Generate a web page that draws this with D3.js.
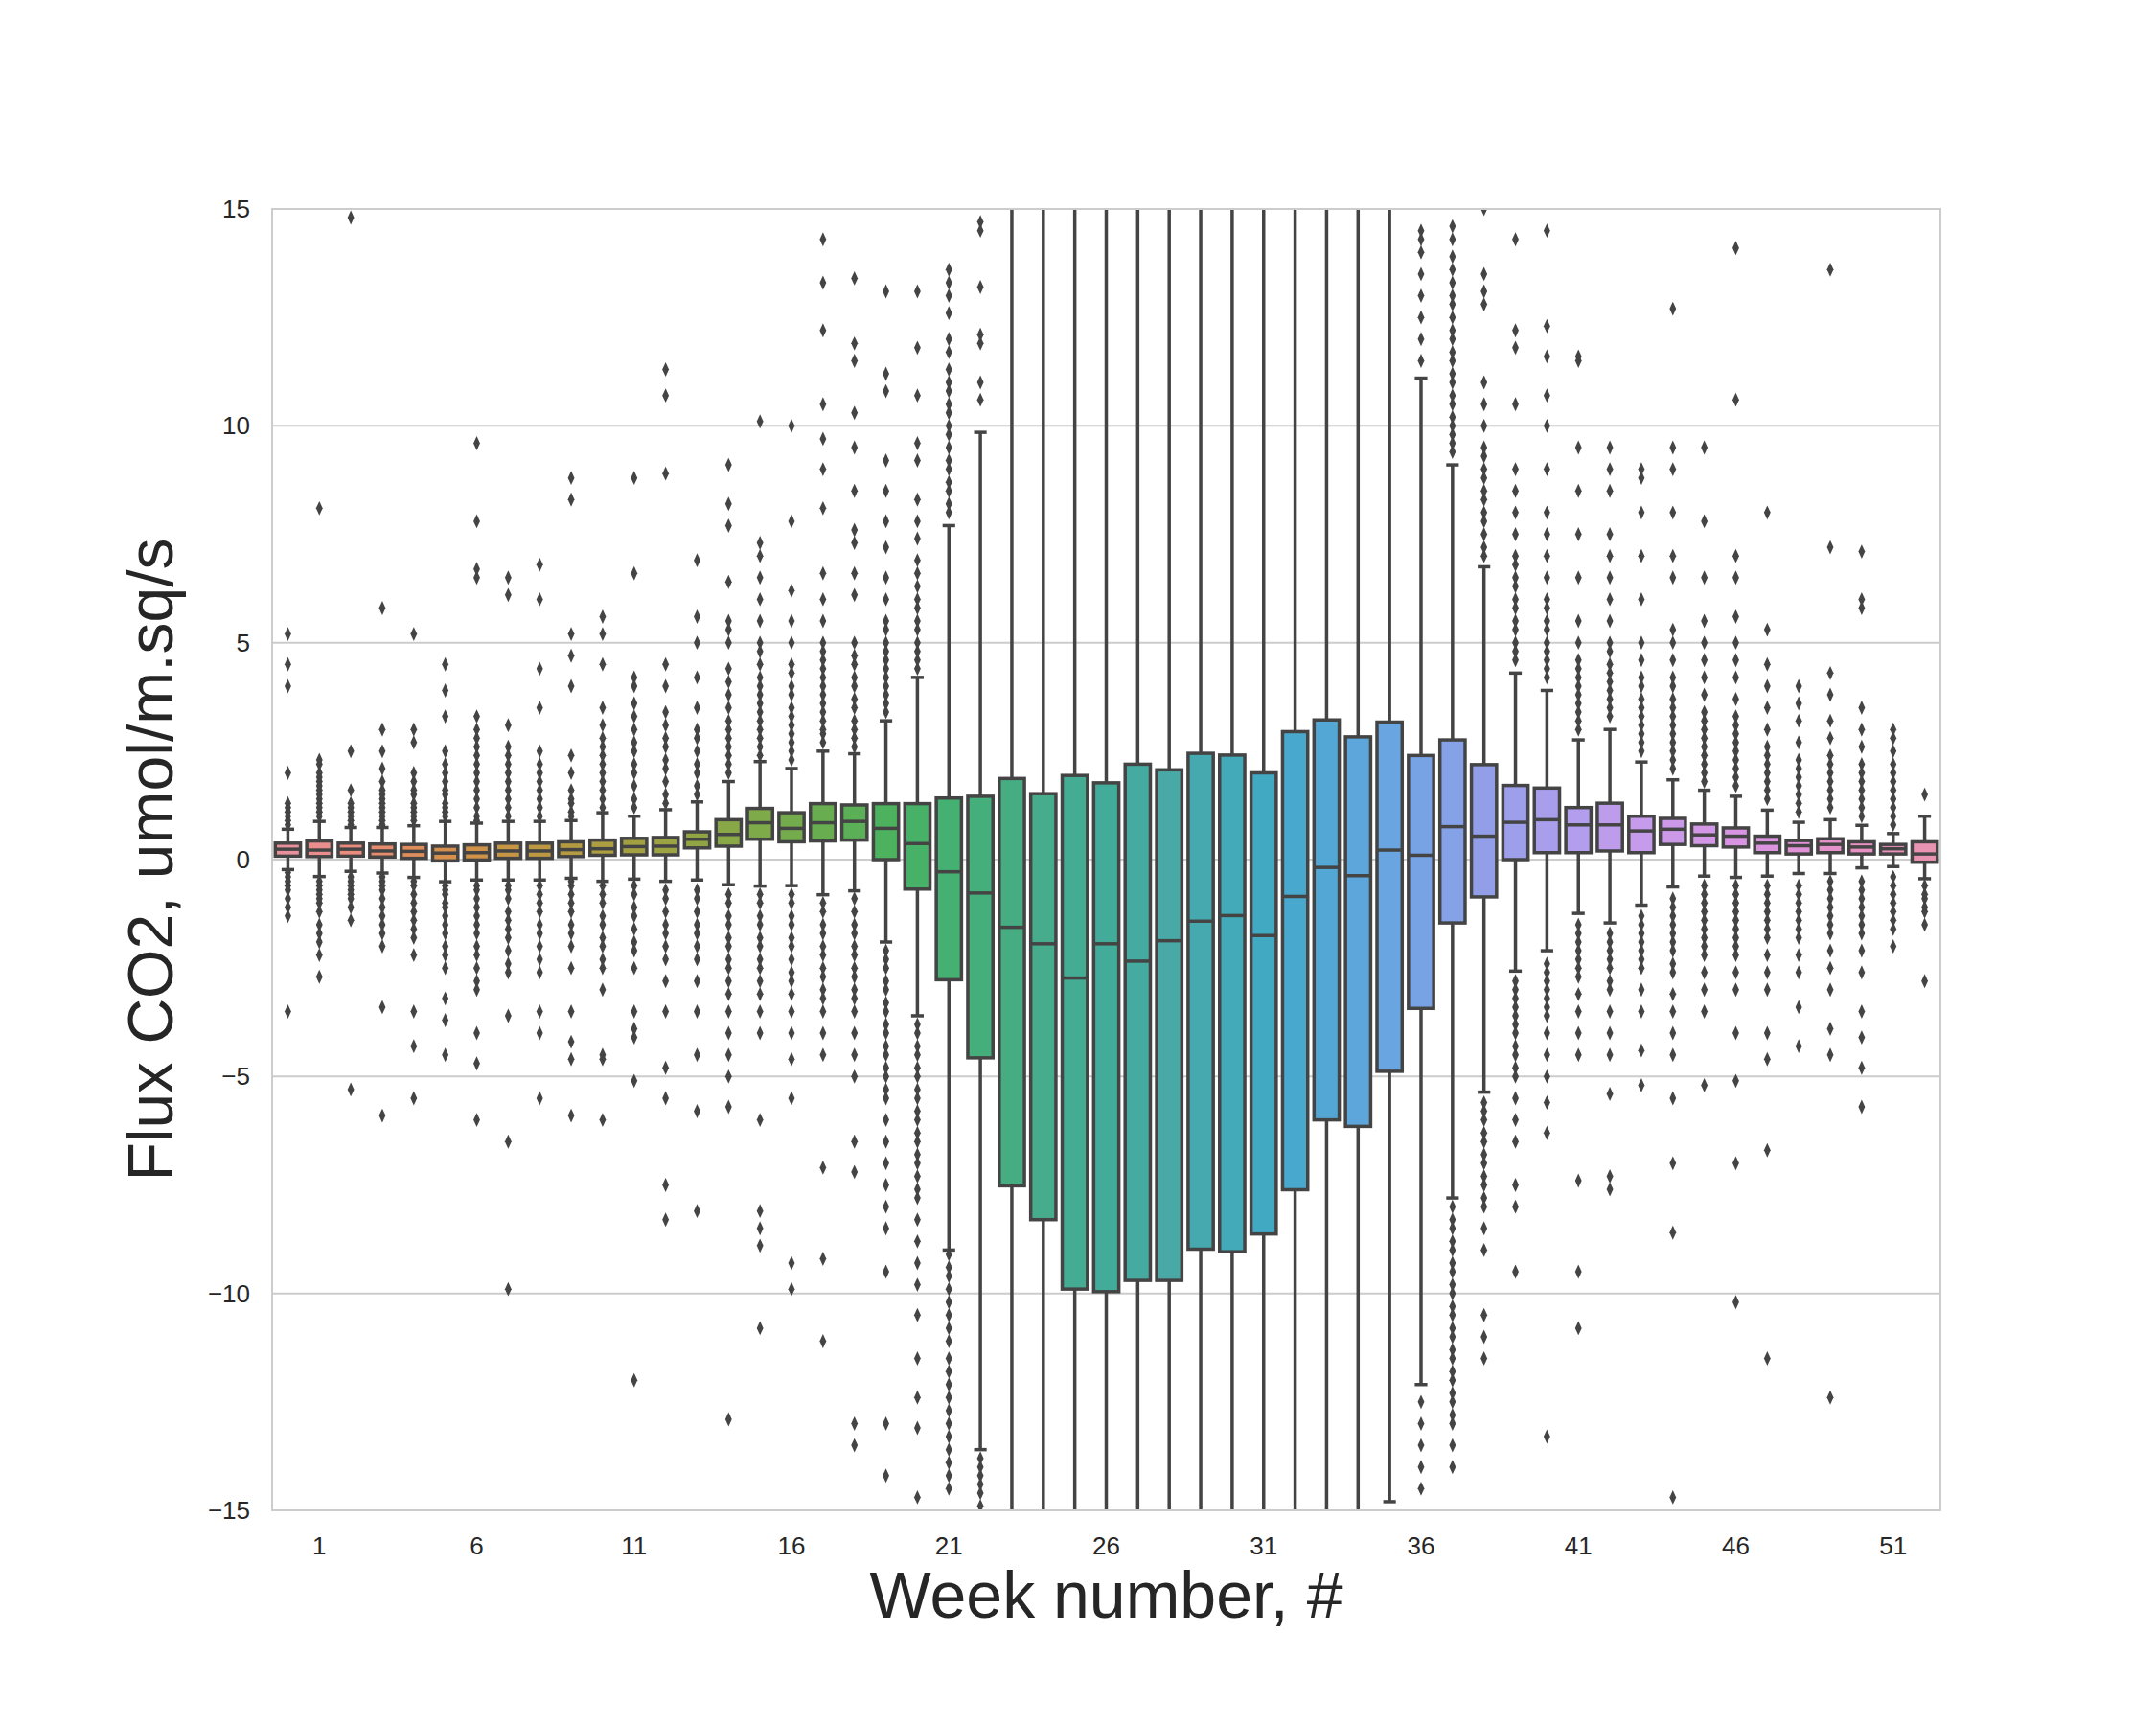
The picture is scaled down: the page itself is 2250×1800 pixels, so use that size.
<!DOCTYPE html>
<html><head><meta charset="utf-8">
<script src="https://cdn.jsdelivr.net/npm/d3@7"></script>
<style>body{margin:0;background:#fff}text{font-family:Arial,"Liberation Sans",sans-serif;fill:#262626}</style>
</head><body><svg id="chart"></svg>
<script>
var width = 2250, height = 1800;

// week numbers 0..52
var weeks = d3.range(0, 53);
var tickWeeks = [1, 6, 11, 16, 21, 26, 31, 36, 41, 46, 51];

// lower whisker, q1, median, q3, upper whisker (beyond +-15 drawn clipped)
var whiskLo = [-0.23,-0.39,-0.27,-0.31,-0.41,-0.51,-0.47,-0.47,-0.47,-0.43,-0.5,-0.45,-0.5,-0.47,-0.58,-0.61,-0.6,-0.81,-0.72,-1.9,-3.6,-9.0,-13.6,-16,-16,-16,-16,-16,-16,-16,-16,-16,-16,-16,-16,-14.8,-12.1,-7.8,-5.36,-2.57,-2.1,-1.24,-1.46,-1.05,-0.63,-0.38,-0.41,-0.38,-0.32,-0.32,-0.19,-0.16,-0.44];
var q1 = [0.08,0.07,0.08,0.06,0.03,-0.03,-0.01,0.03,0.03,0.07,0.1,0.11,0.11,0.27,0.31,0.47,0.41,0.43,0.45,0.0,-0.68,-2.77,-4.57,-7.52,-8.3,-9.9,-9.96,-9.7,-9.7,-8.98,-9.04,-8.63,-7.61,-6.0,-6.15,-4.88,-3.43,-1.46,-0.86,0.0,0.16,0.16,0.2,0.16,0.35,0.32,0.29,0.16,0.13,0.16,0.13,0.13,-0.06];
var median = [0.24,0.22,0.24,0.2,0.19,0.15,0.16,0.2,0.2,0.23,0.25,0.3,0.31,0.47,0.58,0.85,0.72,0.85,0.88,0.72,0.37,-0.28,-0.77,-1.56,-1.94,-2.73,-1.94,-2.34,-1.87,-1.42,-1.29,-1.75,-0.85,-0.18,-0.37,0.22,0.1,0.76,0.54,0.86,0.92,0.8,0.8,0.66,0.7,0.57,0.54,0.38,0.32,0.35,0.29,0.25,0.13];
var q3 = [0.38,0.43,0.38,0.36,0.35,0.31,0.34,0.38,0.38,0.41,0.45,0.49,0.51,0.64,0.92,1.18,1.08,1.29,1.26,1.29,1.29,1.42,1.46,1.87,1.52,1.94,1.77,2.2,2.07,2.45,2.41,2.0,2.95,3.22,2.83,3.17,2.4,2.76,2.19,1.71,1.65,1.2,1.3,1.0,0.95,0.82,0.73,0.54,0.44,0.48,0.41,0.35,0.41];
var whiskHi = [0.7,0.88,0.74,0.74,0.78,0.88,0.84,0.88,0.88,0.9,1.08,1.0,1.15,1.33,1.8,2.26,2.1,2.5,2.44,3.2,4.2,7.7,9.85,16,16,16,16,16,16,16,16,16,16,16,16,16,11.1,9.1,6.75,4.3,3.9,2.76,3.0,2.25,1.84,1.6,1.46,1.14,0.86,0.92,0.79,0.6,1.0];

var fliers = [
  [0.8,0.9,1.0,1.1,1.2,1.3,2.0,4.0,4.5,5.2,-0.3,-0.4,-0.5,-0.6,-0.7,-0.9,-1.1,-1.3,-3.5],
  [1.0,1.1,1.2,1.3,1.4,1.5,1.6,1.7,1.8,1.9,2.0,2.2,2.3,8.1,-0.5,-0.6,-0.7,-0.8,-0.9,-1.0,-1.2,-1.5,-1.7,-1.9,-2.2,-2.7],
  [0.8,0.9,1.0,1.1,1.2,1.3,1.6,2.5,14.8,-0.4,-0.5,-0.6,-0.7,-0.8,-0.9,-1.1,-1.4,-5.3],
  [0.8,0.9,1.0,1.1,1.2,1.3,1.4,1.5,1.6,1.8,2.1,2.5,3.0,5.8,-0.4,-0.5,-0.6,-0.7,-0.9,-1.1,-1.3,-1.5,-1.7,-2.0,-3.4,-5.9],
  [0.9,1.0,1.1,1.2,1.3,1.5,1.6,1.8,2.0,2.7,3.0,5.2,-0.5,-0.6,-0.8,-1.0,-1.2,-1.4,-1.6,-1.8,-2.2,-3.5,-4.3,-5.5],
  [1.0,1.1,1.2,1.3,1.5,1.6,1.8,2.0,2.2,2.5,3.3,3.9,4.5,-0.6,-0.7,-0.8,-1.0,-1.1,-1.3,-1.5,-1.7,-2.0,-2.2,-2.5,-3.2,-3.7,-4.5],
  [0.9,1.0,1.2,1.4,1.6,1.8,2.0,2.2,2.4,2.6,2.8,3.0,3.3,6.5,6.7,7.8,9.6,-0.6,-0.7,-0.9,-1.1,-1.3,-1.5,-1.7,-2.0,-2.2,-2.5,-2.8,-3.0,-4.0,-4.7,-6.0],
  [1.0,1.2,1.4,1.6,1.8,2.0,2.2,2.4,2.6,3.1,6.1,6.5,-0.6,-0.7,-0.9,-1.2,-1.4,-1.6,-1.8,-2.1,-2.4,-2.6,-3.6,-6.5,-9.9],
  [1.0,1.2,1.4,1.6,1.8,2.0,2.2,2.5,3.5,4.4,6.0,6.8,-0.6,-0.8,-1.0,-1.2,-1.5,-1.7,-2.0,-2.3,-2.6,-3.5,-4.0,-5.5],
  [1.0,1.1,1.3,1.4,1.6,2.0,2.4,4.0,4.7,5.2,8.3,8.8,-0.5,-0.6,-0.8,-1.0,-1.2,-1.5,-1.7,-2.0,-2.5,-3.5,-4.2,-4.6,-5.9],
  [1.2,1.4,1.6,1.8,2.0,2.2,2.4,2.6,2.8,3.1,3.5,4.5,5.2,5.6,-0.6,-0.8,-1.0,-1.3,-1.5,-1.8,-2.0,-2.3,-2.5,-3.0,-4.5,-4.6,-6.0],
  [1.2,1.4,1.7,2.0,2.2,2.5,2.7,3.0,3.3,3.6,4.0,4.2,6.6,8.8,-0.6,-0.8,-1.1,-1.3,-1.6,-1.9,-2.1,-2.5,-3.5,-3.9,-4.1,-5.1,-12.0],
  [1.3,1.5,1.8,2.1,2.3,2.6,2.8,3.1,3.4,4.0,4.5,8.9,10.7,11.3,-0.7,-0.9,-1.2,-1.5,-1.7,-2.0,-2.3,-2.8,-3.5,-4.8,-5.5,-7.5,-8.3],
  [1.5,1.7,2.0,2.2,2.5,2.8,3.0,3.5,4.2,5.0,5.6,6.9,-0.7,-0.9,-1.2,-1.5,-1.7,-2.0,-2.3,-2.8,-3.5,-4.5,-5.8,-8.1],
  [2.0,2.2,2.4,2.6,2.8,3.0,3.2,3.5,3.8,4.1,4.4,5.0,5.3,5.5,6.4,7.7,8.2,9.1,-0.8,-1.0,-1.3,-1.5,-1.8,-2.0,-2.3,-2.5,-2.8,-3.1,-3.5,-4.0,-4.5,-5.0,-5.7,-12.9],
  [2.4,2.6,2.8,3.0,3.2,3.4,3.6,3.8,4.0,4.2,4.5,4.8,5.0,5.5,6.0,6.5,7.0,7.3,10.1,-0.8,-1.0,-1.3,-1.5,-1.8,-2.0,-2.3,-2.5,-2.8,-3.1,-3.5,-4.0,-6.0,-8.1,-8.5,-8.9,-10.8],
  [2.3,2.5,2.7,2.9,3.1,3.3,3.5,3.8,4.0,4.3,4.5,5.0,5.5,6.2,7.8,10.0,-0.8,-1.0,-1.3,-1.5,-1.8,-2.0,-2.3,-2.6,-2.8,-3.1,-3.5,-4.0,-4.6,-5.5,-9.3,-9.9],
  [2.7,2.9,3.0,3.2,3.4,3.6,3.8,4.0,4.2,4.4,4.6,4.8,5.0,5.5,6.0,6.6,8.1,9.0,9.7,10.5,12.2,13.3,14.3,-1.0,-1.2,-1.5,-1.7,-2.0,-2.2,-2.5,-2.7,-3.0,-3.2,-3.5,-4.0,-4.5,-7.1,-9.2,-11.1],
  [2.6,2.8,3.0,3.2,3.5,3.7,4.0,4.2,4.5,4.7,5.0,6.1,6.6,7.3,7.6,8.5,9.5,10.3,11.5,11.9,13.4,-0.9,-1.2,-1.5,-1.7,-2.0,-2.2,-2.5,-2.7,-3.0,-3.2,-3.5,-4.0,-4.5,-5.0,-6.5,-7.2,-13.0,-13.5],
  [3.4,3.6,3.8,4.0,4.2,4.4,4.6,4.8,5.0,5.3,5.5,6.0,6.5,7.2,7.8,8.5,9.2,10.8,11.2,13.1,-2.1,-2.3,-2.5,-2.8,-3.0,-3.3,-3.5,-3.8,-4.0,-4.3,-4.5,-4.8,-5.0,-5.3,-5.5,-6.0,-6.5,-7.0,-7.5,-8.0,-8.5,-9.5,-13.0,-14.2],
  [4.4,4.6,4.8,5.0,5.3,5.5,5.8,6.0,6.3,6.6,6.9,7.4,7.8,8.3,9.2,9.6,10.7,11.8,13.1,-3.8,-4.0,-4.3,-4.5,-4.8,-5.0,-5.3,-5.5,-5.8,-6.0,-6.3,-6.5,-6.8,-7.0,-7.3,-7.6,-7.8,-8.3,-8.8,-9.3,-9.8,-10.5,-11.5,-12.4,-13.1,-14.7],
  [8.0,8.2,8.5,8.7,9.0,9.2,9.5,9.8,10.0,10.3,10.5,10.8,11.0,11.3,11.7,12.0,12.6,13.0,13.3,13.6,-9.1,-9.4,-9.6,-9.9,-10.2,-10.5,-10.8,-11.1,-11.5,-11.8,-12.1,-12.4,-12.7,-13.0,-13.3,-13.6,-13.9,-14.2,-14.5],
  [10.6,11.0,11.9,12.1,13.2,14.5,14.7,-13.8,-14.0,-14.2,-14.4,-14.6,-14.9],
  [],[],[],[],[],[],[],[],[],[],[],[],[],
  [11.5,12.0,12.5,13.0,13.5,14.0,14.3,14.5,-12.5,-13.0,-13.5,-14.0,-14.5],
  [9.4,9.6,9.8,10.0,10.2,10.5,10.7,11.0,11.2,11.5,11.7,12.0,12.2,12.5,12.8,13.0,13.3,13.6,13.9,14.3,14.6,-8.0,-8.3,-8.5,-8.8,-9.0,-9.3,-9.5,-9.8,-10.0,-10.3,-10.5,-10.8,-11.0,-11.3,-11.5,-11.8,-12.0,-12.3,-12.5,-12.8,-13.0,-13.5,-14.0],
  [7.0,7.2,7.5,7.8,8.0,8.3,8.5,8.8,9.0,9.3,9.5,10.0,10.5,11.0,12.8,13.1,13.5,15.0,-5.6,-5.8,-6.0,-6.3,-6.5,-6.8,-7.0,-7.3,-7.5,-7.8,-8.0,-8.5,-9.0,-10.5,-11.0,-11.5],
  [4.6,4.8,5.0,5.3,5.5,5.8,6.0,6.3,6.5,6.8,7.0,7.5,8.0,8.5,9.0,10.5,11.8,12.2,14.3,-2.8,-3.0,-3.2,-3.4,-3.6,-3.8,-4.0,-4.3,-4.5,-4.8,-5.0,-5.5,-6.0,-6.5,-7.5,-8.0,-9.5],
  [4.2,4.4,4.6,4.8,5.0,5.3,5.5,5.8,6.0,6.5,7.0,7.5,8.0,9.0,10.0,10.7,11.6,12.3,14.5,-2.4,-2.6,-2.8,-3.0,-3.2,-3.4,-3.6,-4.0,-4.5,-5.0,-5.6,-6.3,-13.3],
  [3.0,3.2,3.4,3.6,3.8,4.0,4.2,4.4,4.6,5.0,5.5,6.5,7.5,8.5,9.5,11.5,11.6,-1.5,-1.7,-1.9,-2.1,-2.3,-2.5,-2.7,-3.1,-3.5,-4.0,-4.5,-7.4,-9.5,-10.8],
  [3.3,3.5,3.7,3.9,4.1,4.3,4.5,4.8,5.0,5.5,6.0,6.5,7.0,7.5,8.5,9.0,9.5,-1.7,-1.9,-2.1,-2.3,-2.5,-2.8,-3.0,-3.5,-4.0,-4.5,-5.4,-7.3,-7.6],
  [2.5,2.7,2.9,3.1,3.3,3.5,3.7,4.0,4.2,4.6,5.0,6.0,7.0,8.0,8.8,9.0,-1.3,-1.5,-1.7,-1.9,-2.1,-2.3,-2.5,-3.0,-3.5,-4.4,-5.2],
  [2.1,2.3,2.5,2.7,2.9,3.1,3.3,3.5,3.7,4.0,4.2,4.6,5.0,5.3,6.5,7.0,8.0,9.0,9.5,12.7,-0.9,-1.1,-1.3,-1.5,-1.7,-1.9,-2.1,-2.4,-2.6,-3.1,-3.5,-4.0,-4.5,-5.5,-7.0,-8.6,-14.7],
  [1.8,2.0,2.2,2.4,2.6,2.8,3.0,3.2,3.4,3.8,4.2,4.6,5.0,5.5,6.5,7.8,9.5,-0.6,-0.8,-1.0,-1.2,-1.4,-1.6,-1.8,-2.0,-2.2,-2.6,-3.0,-3.5,-5.2],
  [1.7,1.9,2.1,2.3,2.5,2.7,2.9,3.1,3.3,3.7,4.2,4.6,5.0,5.6,6.5,7.0,10.6,14.1,-0.6,-0.8,-1.0,-1.2,-1.4,-1.6,-1.8,-2.0,-2.2,-2.6,-3.0,-4.0,-5.1,-7.0,-10.2],
  [1.4,1.6,1.8,2.0,2.2,2.4,2.6,3.0,3.5,4.0,4.5,5.3,8.0,-0.6,-0.8,-1.0,-1.2,-1.4,-1.6,-1.8,-2.2,-2.6,-3.0,-4.0,-4.6,-6.7,-11.5],
  [1.1,1.3,1.5,1.7,1.9,2.1,2.3,2.7,3.2,3.6,4.0,-0.6,-0.8,-1.0,-1.2,-1.4,-1.6,-1.8,-2.2,-2.6,-3.4,-4.3],
  [1.2,1.4,1.6,1.8,2.0,2.2,2.4,2.8,3.2,3.8,4.3,7.2,13.6,-0.5,-0.7,-0.9,-1.1,-1.3,-1.5,-1.7,-2.1,-2.5,-3.0,-3.9,-4.5,-12.4],
  [1.0,1.2,1.4,1.6,1.8,2.0,2.2,2.6,3.0,3.5,5.8,6.0,7.1,-0.5,-0.7,-0.9,-1.1,-1.3,-1.5,-1.7,-2.1,-2.6,-3.5,-4.1,-4.8,-5.7],
  [0.8,1.0,1.2,1.4,1.6,1.8,2.0,2.2,2.5,2.8,3.0,-0.4,-0.6,-0.8,-1.0,-1.2,-1.4,-1.6,-2.0],
  [1.5,-0.6,-0.8,-0.9,-1.1,-1.2,-1.5,-2.8]
];

var yTicks = [-15, -10, -5, 0, 5, 10, 15];

// palette anchors (husl-like, desaturated)
var colorAnchors = ["#e8919c","#d88f4e","#b09c42","#86a848","#4db25c","#48ac88","#4aa9a8","#53a7d6","#909fe8","#c49cec","#dd93dd","#e893b2"];

var margin = {left: 284, right: 2250 - 2025, top: 218, bottom: 1800 - 1576};
var svg = d3.select("#chart").attr("width", width).attr("height", height);

var x = d3.scaleBand().domain(weeks).range([margin.left, width - margin.right]).paddingInner(0.2).paddingOuter(0.1);
var y = d3.scaleLinear().domain([-15, 15]).range([height - margin.bottom, margin.top]);
var color = d3.scaleLinear().domain(d3.range(colorAnchors.length).map(i => i * 52 / (colorAnchors.length - 1)))
  .range(colorAnchors).interpolate(d3.interpolateHcl);

// grid
svg.append("g").selectAll("line").data(yTicks).join("line")
  .attr("x1", margin.left).attr("x2", width - margin.right)
  .attr("y1", d => y(d)).attr("y2", d => y(d))
  .attr("stroke", "#cccccc").attr("stroke-width", 2);

svg.append("defs").append("clipPath").attr("id", "clip").append("rect")
  .attr("x", margin.left).attr("y", margin.top)
  .attr("width", width - margin.left - margin.right).attr("height", height - margin.top - margin.bottom);

var g = svg.append("g").attr("clip-path", "url(#clip)");
var line = "#444444", bw = x.bandwidth(), lw = 3.5;

weeks.forEach(function(w, i) {
  var cx = x(w) + bw / 2;
  var b = g.append("g");
  b.append("line").attr("x1", cx).attr("x2", cx).attr("y1", y(whiskHi[i])).attr("y2", y(q3[i]))
    .attr("stroke", line).attr("stroke-width", lw);
  b.append("line").attr("x1", cx).attr("x2", cx).attr("y1", y(q1[i])).attr("y2", y(whiskLo[i]))
    .attr("stroke", line).attr("stroke-width", lw);
  [whiskHi[i], whiskLo[i]].forEach(function(v) {
    b.append("line").attr("x1", cx - bw / 4).attr("x2", cx + bw / 4).attr("y1", y(v)).attr("y2", y(v))
      .attr("stroke", line).attr("stroke-width", lw);
  });
  b.append("rect").attr("x", x(w)).attr("width", bw)
    .attr("y", y(q3[i])).attr("height", y(q1[i]) - y(q3[i]))
    .attr("fill", color(i)).attr("stroke", line).attr("stroke-width", lw);
  b.append("line").attr("x1", x(w)).attr("x2", x(w) + bw).attr("y1", y(median[i])).attr("y2", y(median[i]))
    .attr("stroke", line).attr("stroke-width", lw);
  b.selectAll("path").data(fliers[i]).join("path")
    .attr("d", d3.symbol(d3.symbolDiamond, 64))
    .attr("transform", d => "translate(" + cx + "," + y(d) + ") scale(0.8,1)")
    .attr("fill", line);
});

// frame
svg.append("rect").attr("x", margin.left).attr("y", margin.top)
  .attr("width", width - margin.left - margin.right).attr("height", height - margin.top - margin.bottom)
  .attr("fill", "none").attr("stroke", "#cccccc").attr("stroke-width", 2);

// tick labels
svg.append("g").selectAll("text").data(yTicks).join("text")
  .attr("x", margin.left - 23).attr("y", d => y(d)).attr("dy", "0.35em")
  .attr("text-anchor", "end").attr("font-size", 26)
  .text(d => d < 0 ? "\u2212" + Math.abs(d) : d);
svg.append("g").selectAll("text").data(tickWeeks).join("text")
  .attr("x", d => x(d) + bw / 2).attr("y", height - margin.bottom + 46)
  .attr("text-anchor", "middle").attr("font-size", 26).text(d => d);

svg.append("text").attr("x", (margin.left + width - margin.right) / 2).attr("y", 1688)
  .attr("text-anchor", "middle").attr("font-size", 68).text("Week number, #");
svg.append("text").attr("transform", "translate(180," + ((margin.top + height - margin.bottom) / 2) + ") rotate(-90)")
  .attr("text-anchor", "middle").attr("font-size", 66).text("Flux CO2, umol/m.sq/s");
</script></body></html>
